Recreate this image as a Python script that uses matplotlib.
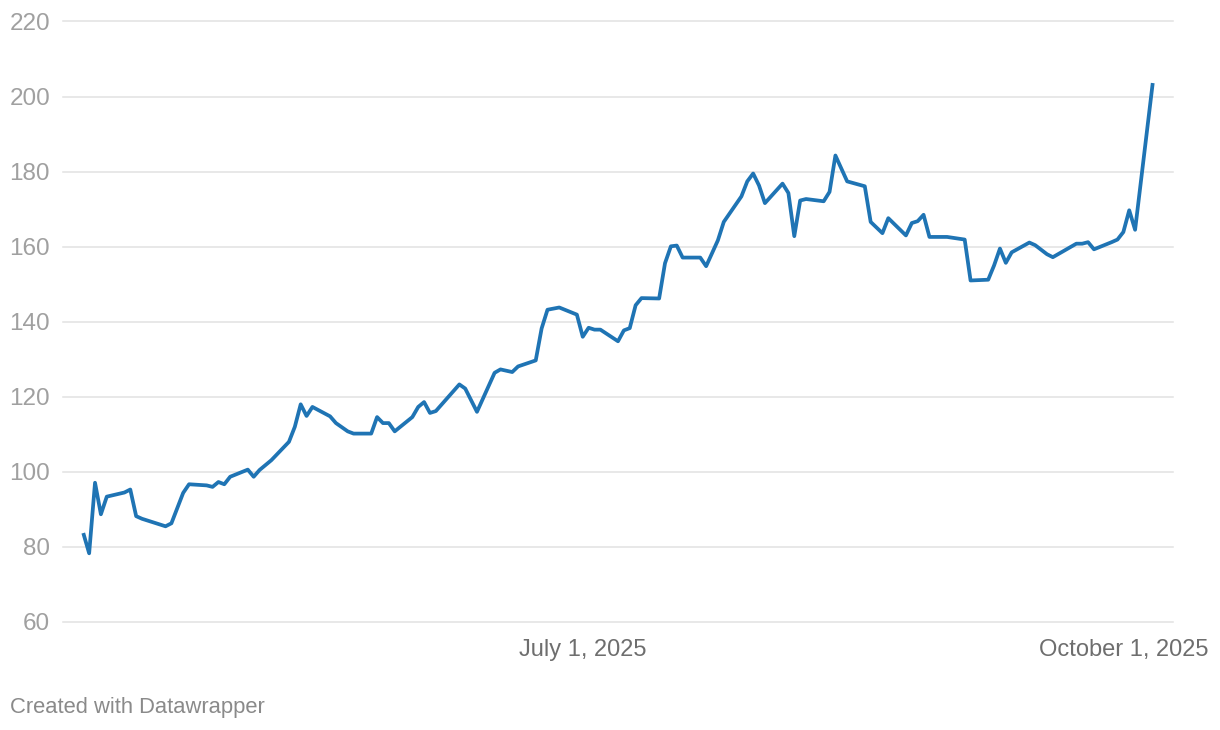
import matplotlib
matplotlib.use("Agg")
import matplotlib.pyplot as plt
import matplotlib.dates as mdates
import pandas as pd

dates = [
    "2025-04-07", "2025-04-08", "2025-04-09", "2025-04-10", "2025-04-11",
    "2025-04-14", "2025-04-15", "2025-04-16", "2025-04-17", "2025-04-21",
    "2025-04-22", "2025-04-24", "2025-04-25", "2025-04-28", "2025-04-29",
    "2025-04-30", "2025-05-01", "2025-05-02", "2025-05-05", "2025-05-06",
    "2025-05-07", "2025-05-08", "2025-05-09", "2025-05-12", "2025-05-13",
    "2025-05-14", "2025-05-15", "2025-05-16", "2025-05-19", "2025-05-20",
    "2025-05-22", "2025-05-23", "2025-05-26", "2025-05-27", "2025-05-28",
    "2025-05-29", "2025-05-30", "2025-06-02", "2025-06-03", "2025-06-04",
    "2025-06-05", "2025-06-06", "2025-06-10", "2025-06-11", "2025-06-13",
    "2025-06-16", "2025-06-17", "2025-06-19", "2025-06-20", "2025-06-23",
    "2025-06-24", "2025-06-25", "2025-06-27", "2025-06-30", "2025-07-01",
    "2025-07-02", "2025-07-03", "2025-07-04", "2025-07-07", "2025-07-08",
    "2025-07-09", "2025-07-10", "2025-07-11", "2025-07-14", "2025-07-15",
    "2025-07-16", "2025-07-17", "2025-07-18", "2025-07-21", "2025-07-22",
    "2025-07-24", "2025-07-25", "2025-07-28", "2025-07-29", "2025-07-30",
    "2025-07-31", "2025-08-01", "2025-08-04", "2025-08-05", "2025-08-06",
    "2025-08-07", "2025-08-08", "2025-08-11", "2025-08-12", "2025-08-13",
    "2025-08-15", "2025-08-18", "2025-08-19", "2025-08-21", "2025-08-22",
    "2025-08-25", "2025-08-26", "2025-08-27", "2025-08-28", "2025-08-29",
    "2025-09-01", "2025-09-04", "2025-09-05", "2025-09-08", "2025-09-09",
    "2025-09-10", "2025-09-11", "2025-09-12", "2025-09-15", "2025-09-16",
    "2025-09-18", "2025-09-19", "2025-09-23", "2025-09-24", "2025-09-25",
    "2025-09-26", "2025-09-29", "2025-09-30", "2025-10-01", "2025-10-02",
    "2025-10-03", "2025-10-06",
]
values = [
    83.7, 78.3, 97.1, 88.7, 93.4,
    94.5, 95.3, 88.2, 87.5, 85.5,
    86.3, 94.4, 96.7, 96.4, 96.0,
    97.3, 96.7, 98.7, 100.6, 98.7,
    100.5, 101.8, 103.1, 108.0, 112.0,
    118.0, 114.9, 117.3, 114.8, 113.0,
    110.8, 110.2, 110.2, 114.6, 113.0,
    113.0, 110.8, 114.6, 117.3, 118.6,
    115.7, 116.2, 123.3, 122.2, 116.0,
    126.4, 127.3, 126.6, 128.1, 129.7,
    138.2, 143.2, 143.8, 141.9, 136.0,
    138.4, 137.9, 137.9, 134.8, 137.7,
    138.3, 144.4, 146.3, 146.2, 155.6,
    160.1, 160.3, 157.1, 157.1, 154.8,
    161.7, 166.6, 173.4, 177.4, 179.5,
    176.3, 171.6, 176.8, 174.3, 162.8,
    172.3, 172.7, 172.1, 174.6, 184.3,
    177.4, 176.1, 166.6, 163.6, 167.6,
    163.0, 166.3, 166.8, 168.5, 162.6,
    162.6, 161.9, 151.0, 151.2, 155.0,
    159.5, 155.7, 158.5, 161.1, 160.4,
    158.0, 157.2, 160.8, 160.8, 161.2,
    159.3, 161.2, 161.9, 163.9, 169.7,
    164.5, 203.6,
]
y_ticks = [60, 80, 100, 120, 140, 160, 180, 200, 220]
x_tick_dates = ["2025-07-01", "2025-10-01"]
x_tick_labels = ["July 1, 2025", "October 1, 2025"]

plt.rcParams["font.family"] = ["Liberation Sans", "DejaVu Sans"]

W, H = 1220, 730
fig = plt.figure(figsize=(W / 100, H / 100), dpi=100)
left, right, top, bottom = 63, 1173, 21.5, 622
ax = fig.add_axes([left / W, (H - bottom) / H, (right - left) / W, (bottom - top) / H])

x = pd.to_datetime(dates)
ax.plot(x, values, color="#1f74b4", linewidth=2.7, solid_joinstyle="round",
        solid_capstyle="butt", zorder=3)

pad = pd.Timedelta(days=3.45)
ax.set_xlim(x[0] - pad, x[-1] + pad)
ax.set_ylim(60, 220)

ax.set_yticks(y_ticks)
ax.set_yticklabels([str(v) for v in y_ticks])
ax.grid(axis="y", color="#e2e2e2", linewidth=1.1, zorder=0)
for gl in ax.get_ygridlines():
    gl.set_clip_on(False)
ax.tick_params(axis="y", length=0, pad=9.3, labelsize=17.5, labelcolor="#a0a0a0")

ax.set_xticks(pd.to_datetime(x_tick_dates))
ax.set_xticklabels(x_tick_labels)
ax.tick_params(axis="x", length=0, pad=12, labelsize=17, labelcolor="#6e6e6e")

for s in ax.spines.values():
    s.set_visible(False)

fig.text(10 / W, (H - 707) / H, "Created with Datawrapper", fontsize=15.8,
         color="#8a8a8a", ha="left", va="center")

fig.savefig("out.png", dpi=100, facecolor="white")
